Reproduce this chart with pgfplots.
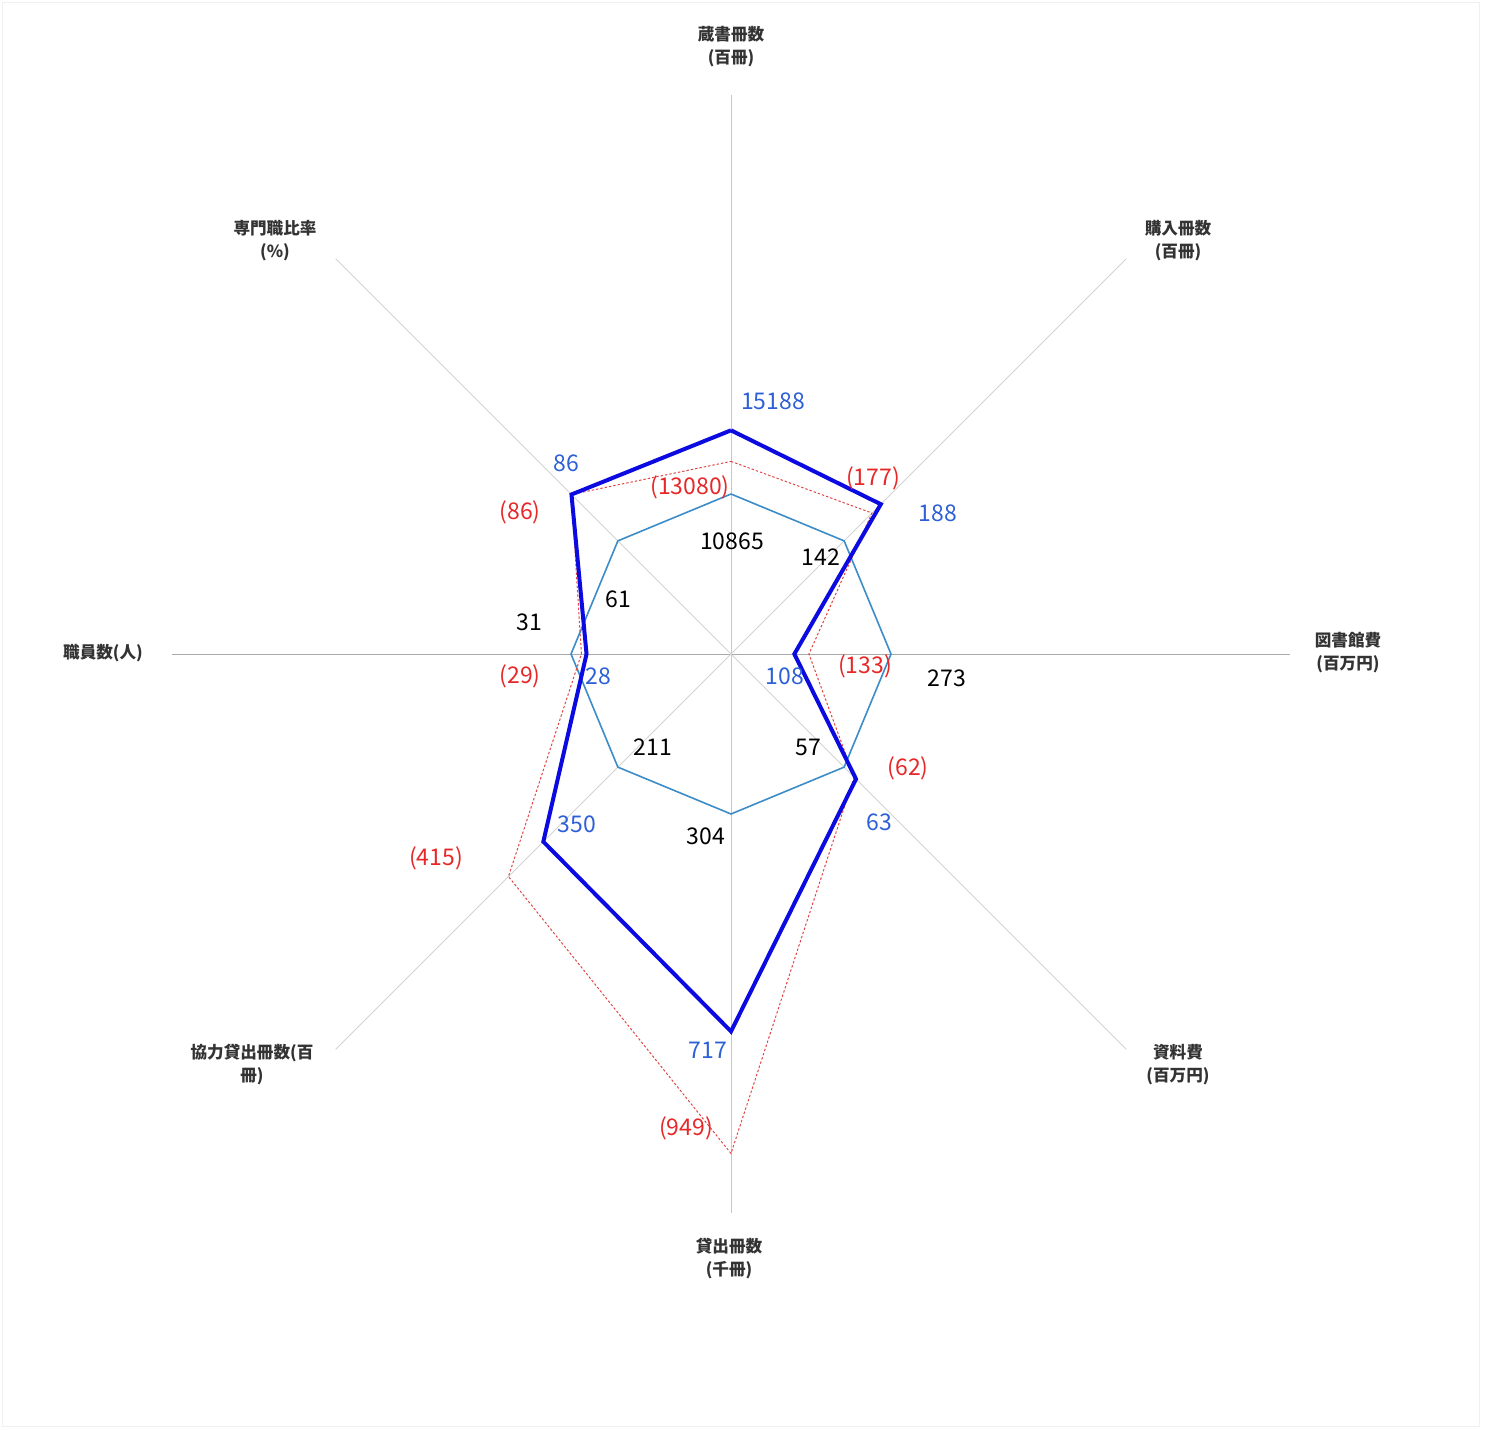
\documentclass[border=0pt]{standalone}
\usepackage{pgfplots}
\pgfplotsset{compat=1.18}
\usepgfplotslibrary{polar}
\usepackage{fontspec}
\setmainfont{Noto Sans CJK JP}
\definecolor{spoke}{RGB}{200,200,200}
\definecolor{spokeh}{RGB}{170,170,170}
\definecolor{thinblue}{RGB}{60,140,200}
\definecolor{thickblue}{RGB}{10,10,225}
\definecolor{reddash}{RGB}{225,70,70}
\definecolor{labblue}{RGB}{45,95,215}
\definecolor{labred}{RGB}{230,40,40}
\begin{document}
\begin{tikzpicture}
\begin{polaraxis}[hide axis, width=559pt, height=559pt, scale only axis,
  ymin=0, ymax=349.4, xmin=0, xmax=360, clip=false]
\coordinate (O) at (axis cs:0,0);
% spokes
\addplot[spokeh, line width=0.5pt] coordinates {(0,349.4) (180,349.4)};
\addplot[spoke, line width=0.5pt] coordinates {(90,349.4) (270,349.4)};
\addplot[spoke!80, line width=0.5pt] coordinates {(45,349.4) (225,349.4)};
\addplot[spoke!80, line width=0.5pt] coordinates {(135,349.4) (315,349.4)};
% reference (black labels) = 100
\addplot[thinblue, line width=0.8pt] coordinates {
 (90,100) (45,100) (0,100) (315,100) (270,100) (225,100) (180,100) (135,100) (90,100)};
% red dashed (values in parentheses) relative to reference
\addplot[reddash, line width=0.5pt, dash pattern=on 1.2pt off 1pt] coordinates {
 (90,120.4) (45,124.6) (0,48.7) (315,108.8) (270,312.2) (225,196.7) (180,93.5) (135,141.0) (90,120.4)};
% thick blue relative to reference
\addplot[thickblue, line width=2pt, line join=miter] coordinates {
 (90,139.8) (45,132.4) (0,39.6) (315,110.5) (270,235.9) (225,165.9) (180,90.3) (135,141.0) (90,139.8)};
\end{polaraxis}
\pgfresetboundingbox
\path[use as bounding box, shift={(O)}] (-365.5pt,-387.5pt) rectangle (377.5pt,327pt);
\draw[shift={(O)}, gray!12, line width=0.5pt] (-364pt,-386pt) rectangle (374pt,325.5pt);
\begin{scope}[shift={(O)}, every node/.style={inner sep=0pt, anchor=center}]
% axis labels
\begin{scope}[every node/.append style={font=\fontsize{8.3}{11.5}\selectfont\bfseries, align=center, text=black!80}]
\node at (0pt,303.5pt) {蔵書冊数\\(百冊)};
\node at (223.5pt,206.5pt) {購入冊数\\(百冊)};
\node at (308.5pt,0.5pt) {図書館費\\(百万円)};
\node at (223.5pt,-205.5pt) {資料費\\(百万円)};
\node at (-1pt,-302.5pt) {貸出冊数\\(千冊)};
\node at (-239.5pt,-205.5pt) {協力貸出冊数(百\\冊)};
\node at (-314pt,0.5pt) {職員数(人)};
\node at (-228pt,206.5pt) {専門職比率\\(\%)};
\end{scope}
\begin{scope}[every node/.append style={font=\fontsize{11.5}{13}\selectfont}]
% blue labels
\node[text=labblue] at (21pt,126.5pt) {15188};
\node[text=labblue] at (103.5pt,70.5pt) {188};
\node[text=labblue] at (27pt,-11pt) {108};
\node[text=labblue] at (74pt,-84pt) {63};
\node[text=labblue] at (-11.5pt,-198pt) {717};
\node[text=labblue] at (-77pt,-85pt) {350};
\node[text=labblue] at (-66.5pt,-11pt) {28};
\node[text=labblue] at (-82.5pt,95.5pt) {86};
% black labels
\node[text=black] at (0.5pt,56.5pt) {10865};
\node[text=black] at (45pt,48.5pt) {142};
\node[text=black] at (108pt,-12pt) {273};
\node[text=black] at (38.5pt,-46.5pt) {57};
\node[text=black] at (-12.5pt,-91pt) {304};
\node[text=black] at (-39pt,-46.5pt) {211};
\node[text=black] at (-101pt,16pt) {31};
\node[text=black] at (-56.5pt,27.5pt) {61};
% red labels
\node[text=labred] at (-20.5pt,83.5pt) {(13080)};
\node[text=labred] at (71pt,88pt) {(177)};
\node[text=labred] at (67pt,-6pt) {(133)};
\node[text=labred] at (88.5pt,-57pt) {(62)};
\node[text=labred] at (-22.5pt,-237pt) {(949)};
\node[text=labred] at (-147.5pt,-102pt) {(415)};
\node[text=labred] at (-105.5pt,-11pt) {(29)};
\node[text=labred] at (-105.5pt,71pt) {(86)};
\end{scope}
\end{scope}
\end{tikzpicture}
\end{document}
